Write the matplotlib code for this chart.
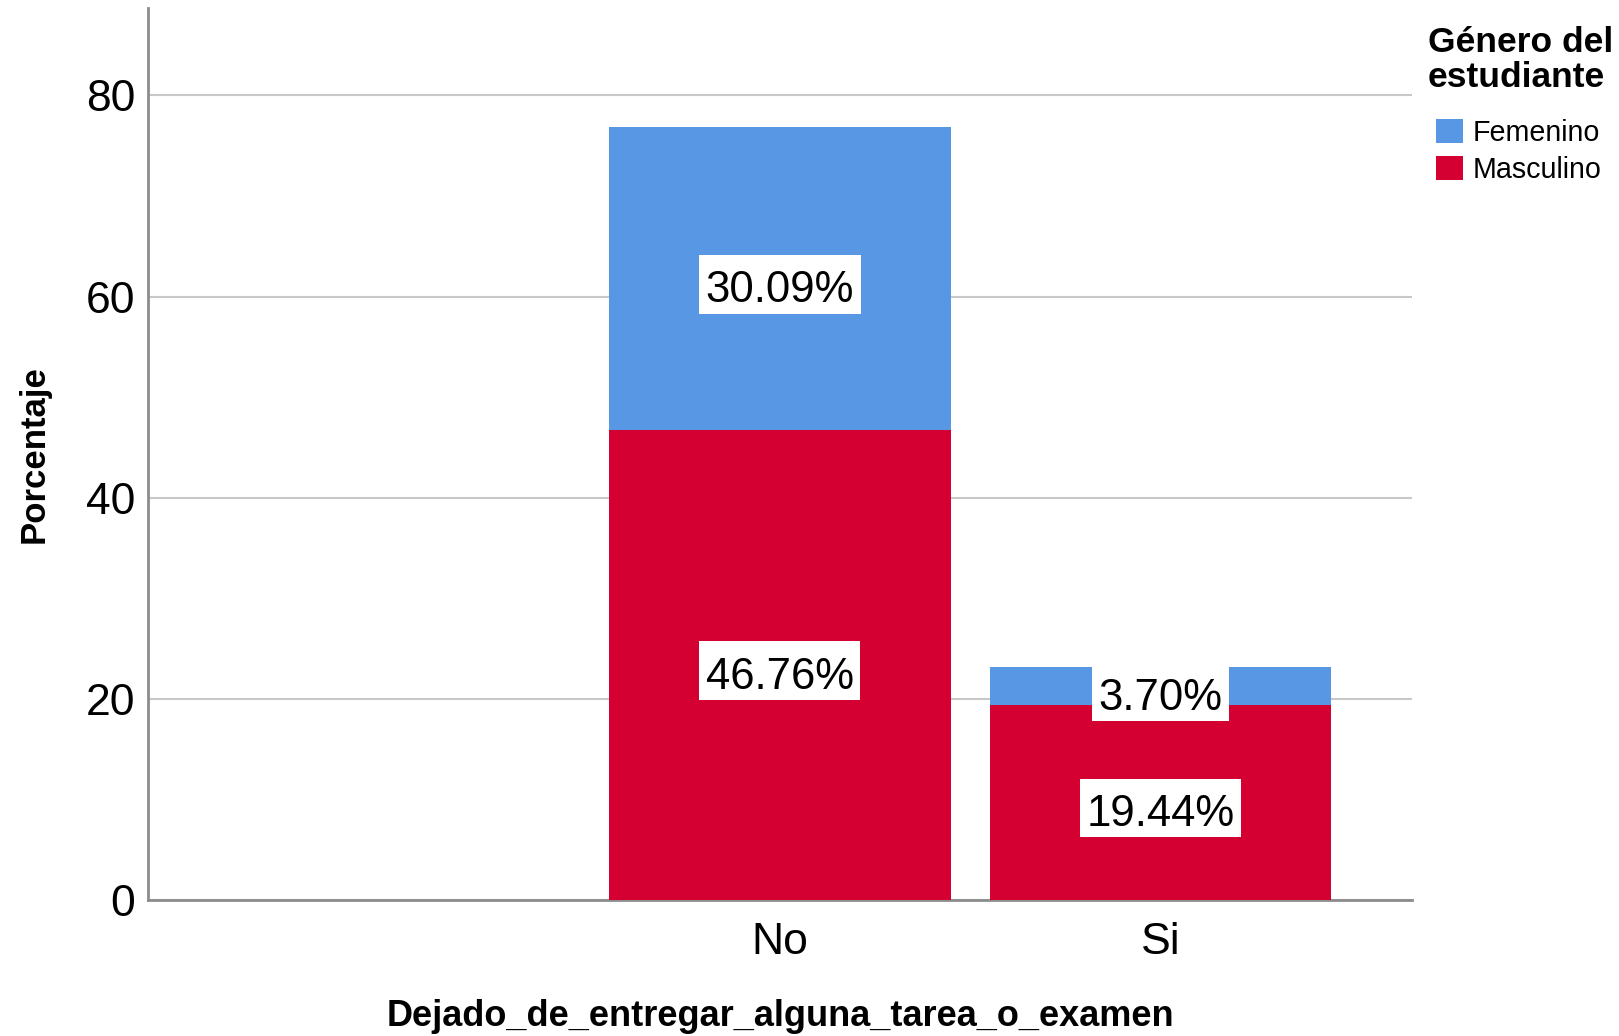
import matplotlib
matplotlib.use("Agg")
import matplotlib.pyplot as plt
from matplotlib.patches import Patch
from matplotlib.path import Path

plt.rcParams['font.family'] = ['Liberation Sans', 'DejaVu Sans']

categories = ["", "No", "Si"]
masculino = [0.0, 46.76, 19.44]
femenino = [0.0, 30.09, 3.70]
series_names = ["Femenino", "Masculino"]
colors = {"Femenino": "#5797E3", "Masculino": "#D40031"}
yticks = [0, 20, 40, 60, 80]

W, H = 1619, 1036
fig = plt.figure(figsize=(W / 100, H / 100), dpi=100)
ax = fig.add_axes([147.6 / W, 1 - 900 / H, (1412 - 147.6) / W, (900 - 8) / H])

x = list(range(len(categories)))
width = 0.897
ax.bar(x, masculino, width=width, color=colors["Masculino"], zorder=3)
ax.bar(x, femenino, width=width, bottom=masculino, color=colors["Femenino"], zorder=3)


def label_box(x0, y0, w, h, mutation_size):
    # asymmetric padding around the text layout box (in pixels)
    px = 0.15 * mutation_size
    pt = 0.36 * mutation_size
    pb = 0.05 * mutation_size
    xa, xb = x0 - px, x0 + w + px
    ya, yb = y0 - pb, y0 + h + pt
    return Path([(xa, ya), (xb, ya), (xb, yb), (xa, yb), (xa, ya)],
                [Path.MOVETO, Path.LINETO, Path.LINETO, Path.LINETO, Path.CLOSEPOLY])


def put_label(xi, yc, val):
    ax.annotate(f"{val:.2f}%", xy=(xi, yc), xytext=(0, -17.3), textcoords='offset points',
                ha='center', va='baseline', fontsize=31.5, zorder=5,
                bbox=dict(boxstyle=label_box, fc='white', ec='none'))


for xi, m, f in zip(x, masculino, femenino):
    if m > 0:
        put_label(xi, m / 2, m)
    if f > 0:
        put_label(xi, m + f / 2, f)

ax.set_xlim(-0.66, 2.66)
ax.set_ylim(0, 88.7)
ax.set_xticks(x)
ax.set_xticklabels(categories, fontsize=32)
ax.set_yticks(yticks)
ax.set_yticklabels([str(v) for v in yticks], fontsize=32)
ax.tick_params(axis='both', length=0)
ax.tick_params(axis='y', pad=9)
ax.tick_params(axis='x', pad=16)
ax.grid(axis='y', color='#c8c8c8', linewidth=1.5, zorder=0)
ax.set_axisbelow(True)
for s in ['top', 'right']:
    ax.spines[s].set_visible(False)
for s in ['left', 'bottom']:
    ax.spines[s].set_color('#8c8c8c')
    ax.spines[s].set_linewidth(2)

fig.text(34 / W, 1 - 454 / H, "Porcentaje", rotation=90, ha='center', va='center',
         fontsize=25, fontweight='bold')
fig.text(780 / W, 1 - 1017 / H, "Dejado_de_entregar_alguna_tarea_o_examen", ha='center',
         va='center', fontsize=26, fontweight='bold')

# legend title
fig.text(1428 / W, 1 - 52 / H, "Género del", ha='left', va='baseline', fontsize=25.5,
         fontweight='bold')
fig.text(1428 / W, 1 - 87 / H, "estudiante", ha='left', va='baseline', fontsize=25.5,
         fontweight='bold')

handles = [Patch(facecolor=colors[n], edgecolor='none') for n in series_names]
leg = fig.legend(handles, series_names, loc='upper left', bbox_to_anchor=(1436 / W, 1 - 119 / H),
                 fontsize=20.6, frameon=False, handlelength=0.94, handleheight=0.94,
                 handletextpad=0.33, labelspacing=0.3, borderpad=0, borderaxespad=0)

fig.savefig("out.png", dpi=100)
